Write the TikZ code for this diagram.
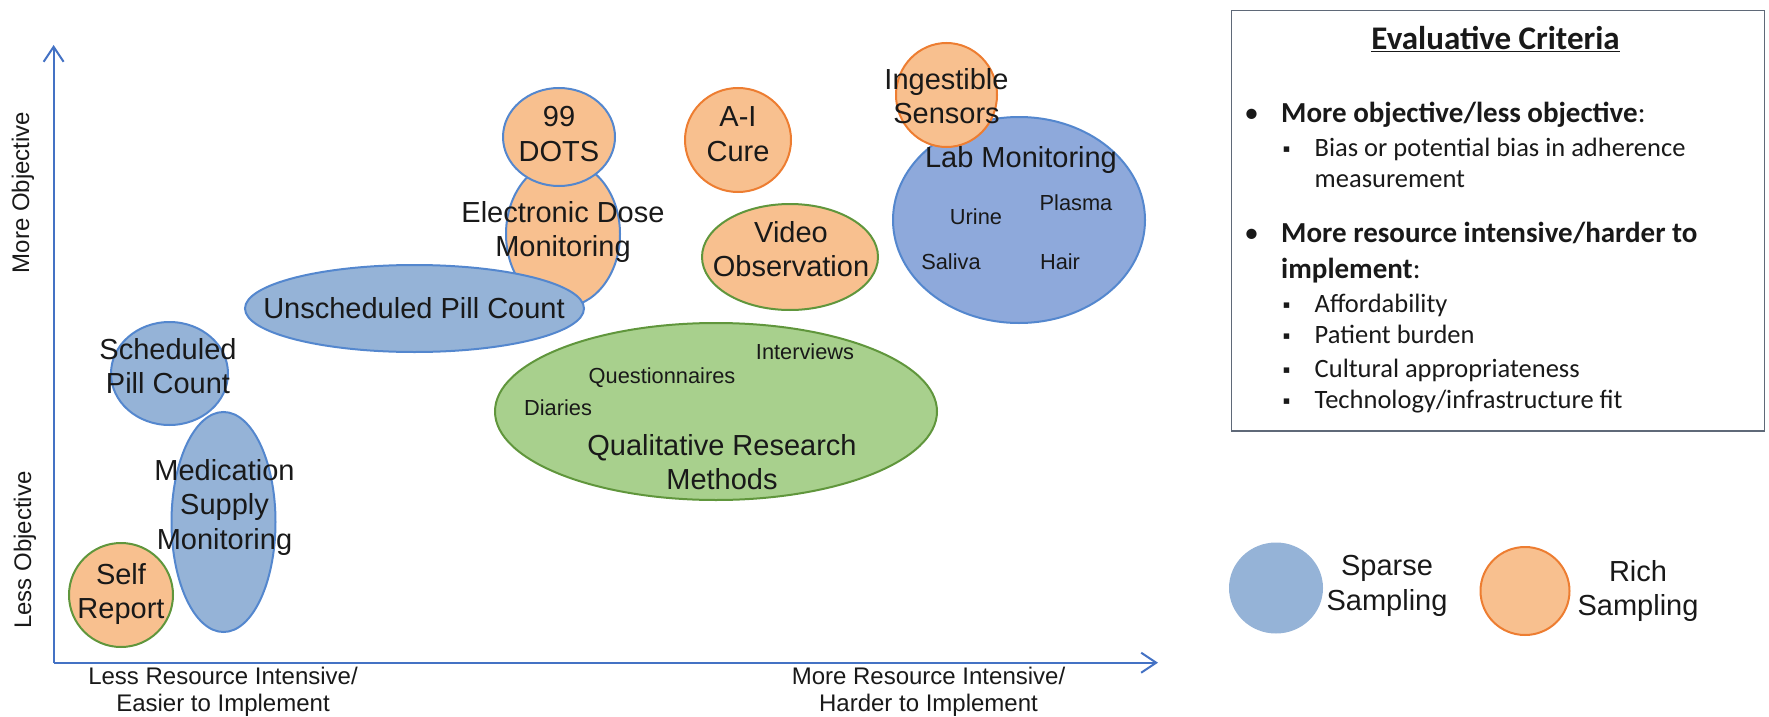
\documentclass[tikz,border=0pt]{standalone}
\usepackage{fontspec}
\setmainfont{Liberation Sans}
\newfontfamily\calibri{Carlito}
\newfontfamily\dejavu{DejaVu Sans}
\usetikzlibrary{shapes.geometric,arrows.meta}
\definecolor{bfill}{RGB}{149,179,215}
\definecolor{labfill}{RGB}{142,169,219}
\definecolor{bline}{RGB}{84,135,206}
\definecolor{ofill}{RGB}{248,192,143}
\definecolor{oline}{RGB}{237,125,49}
\definecolor{gfill}{RGB}{168,208,141}
\definecolor{gline}{RGB}{96,150,60}
\definecolor{axisc}{RGB}{68,114,196}
\definecolor{boxc}{RGB}{95,105,120}
\definecolor{txt}{RGB}{25,25,25}
\begin{document}
\begin{tikzpicture}[x=1pt,y=-1pt,
  blob/.style={ellipse, inner sep=0pt, line width=2pt},
  sparse/.style={blob, fill=bfill, draw=bline},
  rich/.style={blob, fill=ofill, draw=oline},
  lbl/.style={font=\fontsize{29}{34.5}\selectfont, align=center, inner sep=0pt, text=txt},
  small/.style={font=\fontsize{21.8}{25}\selectfont, inner sep=0pt, text=txt},
  axlbl/.style={font=\fontsize{24}{27}\selectfont, align=center, inner sep=0pt, text=txt},
  axisline/.style={draw=axisc, line width=2pt, -{Straight Barb[length=15pt,width=20pt]}},
  crit/.style={font=\calibri\fontsize{29}{34}\selectfont, inner sep=0pt, anchor=base west, text=txt},
  subcrit/.style={font=\calibri\fontsize{26.5}{30}\selectfont, inner sep=0pt, anchor=base west, text=txt},
  bul/.style={font=\calibri\fontsize{29}{34}\selectfont, inner sep=0pt, anchor=base, text=txt},
  sbul/.style={font=\dejavu\fontsize{11}{12}\selectfont, inner sep=0pt, anchor=center, text=txt},
]
\useasboundingbox (0,0) rectangle (1769,717);

% axes
\coordinate (O) at (53.6,662.7);
\coordinate (ytip) at (53.6,45);
\coordinate (xtip) at (1158,662.7);
\draw[axisline] (O) -- (ytip);
\draw[axisline] (O) -- (xtip);

% ellipses
\node[rich, draw=bline, minimum width=114pt, minimum height=146pt] (edm) at (563,234) {};
\node[rich, draw=bline, minimum width=112pt, minimum height=98pt] (dots) at (559,137) {};
\node[sparse, minimum width=339pt, minimum height=87pt] (unsched) at (414.5,308.5) {};
\node[rich, minimum width=106pt, minimum height=104pt] (aicure) at (738,140) {};
\node[blob, fill=labfill, draw=bline, minimum width=252pt, minimum height=206pt] (lab) at (1019,220) {};
\node[rich, minimum width=101pt, minimum height=104pt] (ingest) at (946.5,95) {};
\node[rich, draw=gline, minimum width=176pt, minimum height=106pt] (video) at (790,257) {};
\node[blob, fill=gfill, draw=gline, minimum width=442pt, minimum height=177pt] (qual) at (716,411.5) {};
\node[sparse, minimum width=117pt, minimum height=103pt] (sched) at (169.5,373.5) {};
\node[sparse, minimum width=104pt, minimum height=220pt] (med) at (223.5,522) {};
\node[rich, draw=gline, minimum width=104pt, minimum height=104pt] (self) at (121,595) {};

% texts
\node[lbl] (dotsT) at (559,134) {99\\DOTS};
\node[lbl] (edmT) at (563,232) {Electronic Dose\\Monitoring};
\node[lbl] (unschedT) at (414,308) {Unscheduled Pill Count};
\node[lbl] (aiT) at (738,134) {A-I\\Cure};
\node[lbl] (ingestT) at (946.5,96) {Ingestible\\Sensors};
\node[lbl] (labT) at (1021,160) {Lab Monitoring};
\node[small] (urine) at (976,217) {Urine};
\node[small] (plasma) at (1076,203) {Plasma};
\node[small] (saliva) at (951,262) {Saliva};
\node[small] (hair) at (1060,262) {Hair};
\node[lbl] (videoT) at (791,249) {Video\\Observation};
\node[small] (interviews) at (805,352) {Interviews};
\node[small] (questionnaires) at (662,378) {Questionnaires};
\node[small] (diaries) at (558,408) {Diaries};
\node[lbl] (qualT) at (722,462) {Qualitative Research\\Methods};
\node[lbl] (schedT) at (168,366) {Scheduled\\Pill Count};
\node[lbl] (medT) at (224.5,507) {Medication\\Supply\\Monitoring};
\node[lbl] (selfT) at (121,594) {Self\\Report};

% axis labels
\node[axlbl, rotate=90] (ymore) at (23,192.5) {More Objective};
\node[axlbl, rotate=90] (yless) at (25,550) {Less Objective};
\node[axlbl] (xless) at (223,692) {Less Resource Intensive/\\Easier to Implement};
\node[axlbl] (xmore) at (928.5,692) {More Resource Intensive/\\Harder to Implement};

% criteria box
\node[draw=boxc, line width=1.5pt, minimum width=533pt, minimum height=420pt, anchor=north west, inner sep=0pt] (box) at (1230.5,10) {};
\node[font=\calibri\bfseries\fontsize{33}{36}\selectfont, inner sep=0pt, anchor=base, text=txt] (title) at (1495.6,50) {\underline{Evaluative Criteria}};
\node[bul] (b1) at (1251.5,122) {•};
\node[crit] (c1) at (1281,122) {\bfseries More objective/less objective\mdseries:};
\node[sbul] (s1) at (1286.5,150) {▪};
\node[subcrit] (c1a) at (1314.5,156) {Bias or potential bias in adherence};
\node[subcrit] (c1b) at (1314.5,187) {measurement};
\node[bul] (b2) at (1251.5,242) {•};
\node[crit] (c2) at (1281,242) {\bfseries More resource intensive/harder to};
\node[crit] (c2b) at (1281,278) {\bfseries implement\mdseries:};
\node[sbul] (s2) at (1286.5,306) {▪};
\node[subcrit] (c2a) at (1314.5,312) {Affordability};
\node[sbul] (s3) at (1286.5,337) {▪};
\node[subcrit] (c2c) at (1314.5,343) {Patient burden};
\node[sbul] (s4) at (1286.5,371) {▪};
\node[subcrit] (c2d) at (1314.5,377) {Cultural appropriateness};
\node[sbul] (s5) at (1286.5,402) {▪};
\node[subcrit] (c2e) at (1314.5,408) {Technology/infrastructure fit};

% legend
\node[sparse, draw=bfill, minimum width=92pt, minimum height=89pt] (legS) at (1276,588) {};
\node[lbl] (legST) at (1387,586) {Sparse\\Sampling};
\node[rich, minimum width=89pt, minimum height=88pt] (legR) at (1525,591) {};
\node[lbl] (legRT) at (1638,591) {Rich\\Sampling};
\end{tikzpicture}
\end{document}
